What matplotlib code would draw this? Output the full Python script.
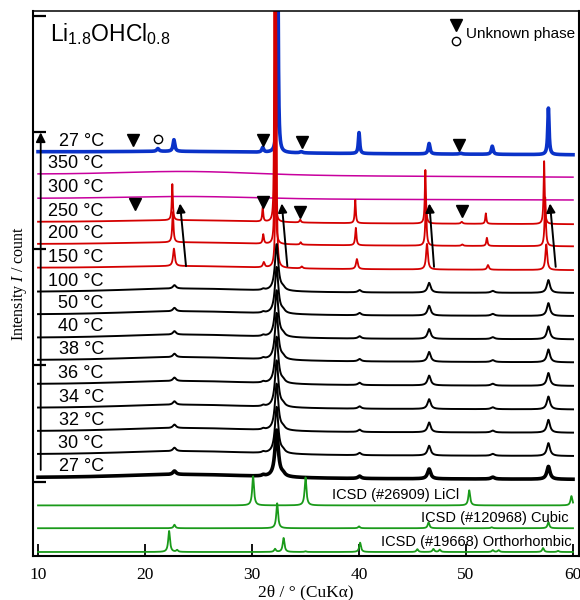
"""In-situ XRD patterns of Li1.8OHCl0.8 with ICSD references."""

import matplotlib
matplotlib.use("Agg")
import matplotlib.pyplot as plt
import numpy as np

plt.rcParams["font.family"] = ["Liberation Sans", "DejaVu Sans"]
plt.rcParams["mathtext.fontset"] = "custom"
plt.rcParams["mathtext.rm"] = "Liberation Sans"
plt.rcParams["mathtext.it"] = "Liberation Serif:italic"

SERIF = ["Liberation Serif", "DejaVu Serif"]

# scan range (2theta, deg)
tt_start, tt_end = 10.0, 60.0

# ---- in-situ scans, listed top to bottom ----
labels = ["27 °C", "350 °C", "300 °C", "250 °C", "200 °C", "150 °C", "100 °C",
          "50 °C", "40 °C", "38 °C", "36 °C", "34 °C", "32 °C", "30 °C", "27 °C"]
offsets = [17.34, 16.38, 15.34, 14.33, 13.38, 12.36, 11.33,
           10.36, 9.36, 8.40, 7.37, 6.35, 5.35, 4.36, 3.36]
colors = ["#0a32c8", "#c8009e", "#c8009e", "#d40000", "#d40000", "#d40000", "black",
          "black", "black", "black", "black", "black", "black", "black", "black"]
widths = [2.6, 1.1, 1.1, 1.3, 1.3, 1.3, 1.4, 1.4, 1.4, 1.4, 1.4, 1.4, 1.4, 1.4, 2.6]
# broad background hump (height) and drift over the scan
hump = [0.05, 0.15, 0.10, 0.10, 0.10, 0.10, 0.15,
        0.15, 0.15, 0.15, 0.15, 0.15, 0.15, 0.15, 0.15]
drift = [-0.13, -0.13, -0.07, -0.10, -0.10, -0.10, -0.05,
         -0.07, -0.07, -0.10, -0.08, -0.07, -0.07, -0.08, -0.08]

# peak tables: position, height, fwhm
cooled_pos = [21.2, 22.7, 31.0, 32.4, 34.6, 40.0, 46.55, 49.5, 52.45, 57.7]
cooled_ht = [0.12, 0.5, 0.2, 10.0, 0.05, 0.9, 0.45, 0.04, 0.35, 2.0]
cooled_fw = [0.25, 0.2, 0.2, 0.12, 0.3, 0.15, 0.2, 0.3, 0.2, 0.15]

red250_pos = [22.55, 31.0, 32.1, 34.5, 39.65, 46.2, 49.6, 51.85, 57.3]
red250_ht = [1.55, 0.6, 12.0, 0.12, 1.0, 2.3, 0.08, 0.45, 2.7]
red250_fw = [0.12, 0.12, 0.08, 0.15, 0.12, 0.12, 0.2, 0.12, 0.12]
red200_pos = [22.6, 31.05, 32.15, 34.55, 39.7, 46.25, 49.65, 51.95, 57.4]
red200_ht = [1.3, 0.4, 12.0, 0.1, 0.75, 1.9, 0.06, 0.35, 2.1]
red200_fw = [0.14, 0.14, 0.08, 0.15, 0.14, 0.14, 0.2, 0.14, 0.14]
red150_pos = [22.7, 31.1, 32.25, 34.65, 39.8, 46.35, 52.05, 57.5]
red150_ht = [0.75, 0.22, 12.0, 0.08, 0.43, 1.1, 0.2, 1.1]
red150_fw = [0.2, 0.2, 0.1, 0.2, 0.2, 0.2, 0.2, 0.2]

black_pos = [22.75, 31.05, 32.3, 32.9, 40.05, 46.55, 52.5, 57.7]
black_ht = [0.15, 0.05, 2.0, 0.1, 0.1, 0.42, 0.08, 0.55]
black_fw = [0.35, 0.3, 0.38, 0.4, 0.35, 0.35, 0.4, 0.35]

# ---- ICSD references, top to bottom ----
ref_labels = ["ICSD (#26909) LiCl", "ICSD (#120968) Cubic", "ICSD (#19668) Orthorhombic"]
ref_offsets = [2.16, 1.18, 0.16]
ref_label_x = [49.35, 59.6, 59.9]
licl_pos = [30.1, 35.0, 50.3, 59.85]
licl_ht = [1.25, 1.2, 0.65, 0.4]
cubic_pos = [22.75, 32.35, 40.0, 46.5, 52.4, 57.7]
cubic_ht = [0.15, 1.07, 0.08, 0.25, 0.04, 0.26]
ortho_pos = [22.25, 23.0, 32.15, 32.95, 35.0, 40.1, 45.45, 46.95, 47.55, 52.5, 53.05, 57.2, 58.6]
ortho_ht = [0.9, 0.08, 0.13, 0.6, 0.03, 0.4, 0.12, 0.13, 0.1, 0.08, 0.08, 0.17, 0.05]

# unknown-phase marks
tri_x = [18.88, 31.0, 34.65, 49.3, 19.1, 31.0, 34.5, 49.6]
tri_y = [17.84, 17.84, 17.76, 17.63, 15.09, 15.19, 14.76, 14.8]
circ_x = [21.2]
circ_y = [17.9]

# peak-shift arrows (tail -> head)
shift_tail = [(23.83, 12.43), (33.3, 12.43), (47.01, 12.40), (58.38, 12.40)]
shift_head = [(23.27, 15.12), (32.78, 15.12), (46.57, 15.12), (57.85, 15.12)]


def pattern(x, pos, ht, fw):
    y = np.zeros_like(x)
    fw = np.broadcast_to(fw, len(pos))
    for c, h, w in zip(pos, ht, fw):
        y += h / (1.0 + ((x - c) / (w / 2.0)) ** 2)
    return y


tt = np.linspace(tt_start, tt_end, 5001)

peak_tables = [(cooled_pos, cooled_ht, cooled_fw), None, None,
               (red250_pos, red250_ht, red250_fw),
               (red200_pos, red200_ht, red200_fw),
               (red150_pos, red150_ht, red150_fw)] + [(black_pos, black_ht, black_fw)] * 9

fig = plt.figure(figsize=(5.8, 6.0), dpi=100)
ax = fig.add_axes([0.0569, 0.0738, 0.9414, 0.9078])

for i, lab in enumerate(labels):
    bg = offsets[i] + hump[i] * np.exp(-0.5 * ((tt - 24.0) / 6.0) ** 2) \
        + drift[i] * (tt - tt_start) / (tt_end - tt_start)
    table = peak_tables[i]
    y = bg if table is None else bg + pattern(tt, *table)
    ax.plot(tt, y, color=colors[i], lw=widths[i], solid_joinstyle="round")
    ax.text(16.15, offsets[i] + 0.46, lab, ha="right", va="center", fontsize=13)

ref_tables = [(licl_pos, licl_ht), (cubic_pos, cubic_ht), (ortho_pos, ortho_ht)]
for off, (pos, ht), lab, lx in zip(ref_offsets, ref_tables, ref_labels, ref_label_x):
    ax.plot(tt, off + pattern(tt, pos, ht, 0.2), color="#1a9a1a", lw=1.3)
    ax.text(lx, off + 0.45, lab, ha="right", va="center", fontsize=10.5)

ax.plot(tri_x, tri_y, "v", color="black", ms=8, ls="none")
ax.plot(circ_x, circ_y, "o", mfc="none", mec="black", mew=1.0, ms=6, ls="none")

for tail, head in zip(shift_tail, shift_head):
    ax.annotate("", xy=head, xytext=tail,
                arrowprops=dict(arrowstyle="-|>", color="black", lw=1.4,
                                mutation_scale=13, shrinkA=0, shrinkB=0))

# intensity arrow
ax.annotate("", xy=(10.25, 18.17), xytext=(10.25, 3.68),
            arrowprops=dict(arrowstyle="-|>", color="black", lw=1.3,
                            mutation_scale=14, shrinkA=0, shrinkB=0))

# legend for the unknown phase
ax.plot([49.07], [22.78], "v", color="black", ms=8)
ax.plot([49.07], [22.09], "o", mfc="none", mec="black", mew=1.0, ms=6)
ax.text(50.0, 22.38, "Unknown phase", ha="left", va="center", fontsize=11)

ax.text(11.1, 22.06, r"Li$_\mathrm{1.8}$OHCl$_\mathrm{0.8}$", ha="left",
        va="baseline", fontsize=16.5)

ax.set_xlim(9.53, 60.56)
ax.set_ylim(0, 23.38)
ax.set_xticks([10, 20, 30, 40, 50, 60])
ax.set_yticks([3.17, 8.17, 13.17, 18.17, 23.17])
ax.tick_params(axis="x", direction="in", length=9, width=1.3, pad=8)
ax.tick_params(axis="y", direction="in", length=9, width=1.6, labelleft=False)
for lbl in ax.get_xticklabels():
    lbl.set_fontfamily(SERIF)
    lbl.set_fontsize(12.5)
for side in ["left", "bottom", "right"]:
    ax.spines[side].set_linewidth(1.5)
ax.spines["top"].set_linewidth(1.1)

ax.set_xlabel("2θ / ° (CuKα)", fontfamily=SERIF, fontsize=12.5, labelpad=1)
ax.set_ylabel("Intensity $I$ / count", fontfamily=SERIF, fontsize=11.5, labelpad=3)

fig.savefig("out.png", dpi=100)
